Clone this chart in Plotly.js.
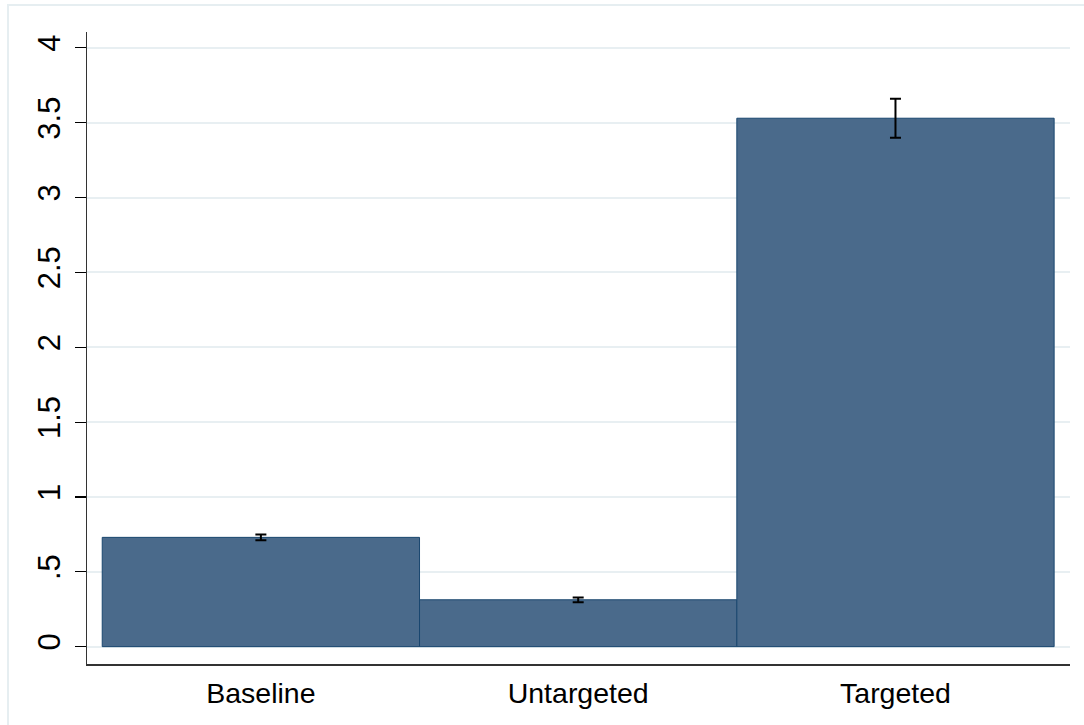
<!DOCTYPE html>
<html>
<head>
<meta charset="utf-8">
<script src="https://cdn.plot.ly/plotly-3.0.1.min.js"></script>
<style>
  html, body { margin: 0; padding: 0; background: #ffffff; }
  #chart { width: 1084px; height: 725px; }
</style>
</head>
<body>
<div id="chart"></div>
<script>
// Group labels and mean values with their error half-widths
const groups = ['Baseline', 'Untargeted', 'Targeted'];
const means = [0.73, 0.313, 3.53];
const errors = [0.019, 0.016, 0.13];

// y-axis ticks, labelled in the compact style (".5" rather than "0.5")
const yTickVals = [0, 0.5, 1, 1.5, 2, 2.5, 3, 3.5, 4];
const yTickText = ['0', '.5', '1', '1.5', '2', '2.5', '3', '3.5', '4'];

const barTrace = {
  type: 'bar',
  x: groups,
  y: means,
  width: 1,
  marker: {
    color: '#4a6a8b',
    line: { color: '#1a476f', width: 1 }
  },
  error_y: {
    type: 'data',
    array: errors,
    visible: true,
    color: '#000000',
    thickness: 2,
    width: 5.5
  },
  hoverinfo: 'x+y'
};

const layout = {
  width: 1084,
  height: 725,
  margin: { l: 87, r: 14, t: 32, b: 61, pad: 0 },
  paper_bgcolor: '#ffffff',
  plot_bgcolor: '#ffffff',
  showlegend: false,
  bargap: 0,
  font: { family: 'Liberation Sans, Arial, sans-serif', color: '#000000' },
  xaxis: {
    type: 'category',
    range: [-0.548, 2.55],
    showgrid: false,
    zeroline: false,
    showline: true,
    linecolor: '#333333',
    linewidth: 1.5,
    ticks: '',
    tickfont: { size: 28.5, color: '#000000' },
    ticklabelstandoff: 3
  },
  yaxis: {
    range: [-0.116, 4.106],
    tickmode: 'array',
    tickvals: yTickVals,
    ticktext: yTickText,
    tickangle: -90,
    ticks: 'outside',
    ticklen: 11,
    tickwidth: 1.2,
    tickcolor: '#000000',
    tickfont: { size: 31, color: '#000000' },
    ticklabelstandoff: 2,
    showline: true,
    linecolor: '#333333',
    linewidth: 1.5,
    showgrid: true,
    gridcolor: '#e8eff2',
    gridwidth: 2,
    zeroline: false
  },
  shapes: [
    {
      // light outer frame around the graph region
      type: 'rect',
      xref: 'paper', yref: 'paper',
      x0: (8 - 87) / 983, x1: 1.1,
      y0: -0.2, y1: (664 - 5) / 632,
      line: { color: '#e6eef1', width: 2 },
      fillcolor: 'rgba(0,0,0,0)',
      layer: 'below'
    }
  ]
};

Plotly.newPlot('chart', [barTrace], layout, { displayModeBar: false, staticPlot: true });
</script>
</body>
</html>
